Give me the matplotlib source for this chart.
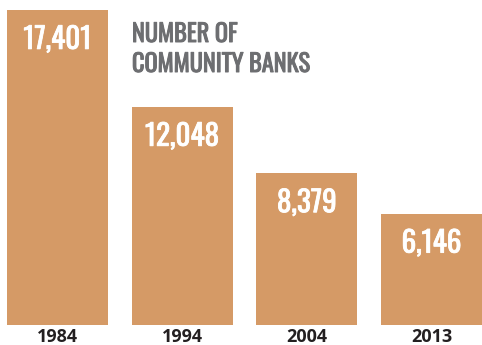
import matplotlib
matplotlib.use("Agg")
import matplotlib.pyplot as plt
import matplotlib.patheffects as pe

years = ["1984", "1994", "2004", "2013"]
banks = [17401, 12048, 8379, 6146]
labels = ["17,401", "12,048", "8,379", "6,146"]

bar_color = "#d59a66"
title_color = "#6d6e71"
cond = ["Oswald", "Roboto Condensed", "Barlow Condensed", "DejaVu Sans"]

fig = plt.figure(figsize=(4.82, 3.45), dpi=100)
ax = fig.add_axes([7 / 482, 20 / 345, 475 / 482, 315 / 345])

x = range(len(years))
ax.bar(x, banks, width=0.808, color=bar_color)
ax.set_xlim(-0.404, 3.404)
ax.set_ylim(0, max(banks))

# Oswald only ships one weight here, so thicken it a little with a stroke
for i, v in enumerate(banks):
    ax.annotate(labels[i], (i, v), xytext=(0, -28), textcoords="offset points",
                ha="center", va="baseline", color="white",
                fontsize=21, fontweight="bold", family=cond,
                path_effects=[pe.withStroke(linewidth=0.6, foreground="white")])

ax.set_xticks(list(x))
ax.set_xticklabels(years, fontsize=13, fontweight="bold", family=["Open Sans", "DejaVu Sans"],
                   color="#231f20")
ax.tick_params(axis="x", length=0, pad=2)
ax.set_yticks([])
for s in ax.spines.values():
    s.set_visible(False)

stroke = [pe.withStroke(linewidth=0.7, foreground=title_color)]
fig.text(132 / 482, 1 - 42 / 345, "NUMBER OF", ha="left", va="baseline",
         fontsize=17.5, fontweight="bold", color=title_color, family=cond,
         path_effects=stroke)
fig.text(132 / 482, 1 - 72 / 345, "COMMUNITY BANKS", ha="left", va="baseline",
         fontsize=17.5, fontweight="bold", color=title_color, family=cond,
         path_effects=stroke)

fig.savefig("out.png", dpi=100)
